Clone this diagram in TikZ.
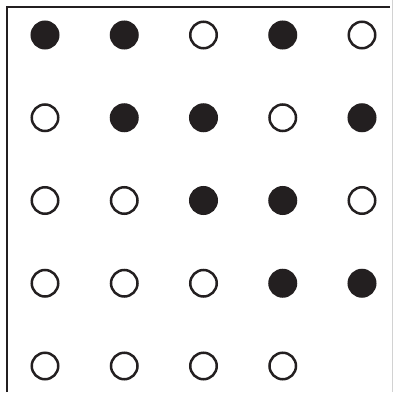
\documentclass[tikz,border=0pt]{standalone}
\usepackage{tikz}
\definecolor{ink}{HTML}{231F20}

\begin{document}
\begin{tikzpicture}[x=0.03cm,y=-0.03cm,
    dot/.style={circle,draw=ink,line width=0.075cm,minimum size=0.795cm,inner sep=0pt}]
        % 画布大小
        \useasboundingbox (0,0) rectangle (393,392);

        % 边框
        \draw[ink,line width=0.06cm] (7,392) -- (7,7) -- (390,7);
        \draw[gray!35,line width=0.03cm] (392,0) -- (392,392);

        % 圆点阵列 (ink = 实心, white = 空心)
        \foreach \r/\pat in {1/{ink,ink,white,ink,white},
                             2/{white,ink,ink,white,ink},
                             3/{white,white,ink,ink,white},
                             4/{white,white,white,ink,ink},
                             5/{white,white,white,white}}
          \foreach \f [count=\c] in \pat
            \node[dot,fill=\f] (c\r\c) at ({45+79.25*(\c-1)},{35+82.75*(\r-1)}) {};
\end{tikzpicture}
\end{document}
